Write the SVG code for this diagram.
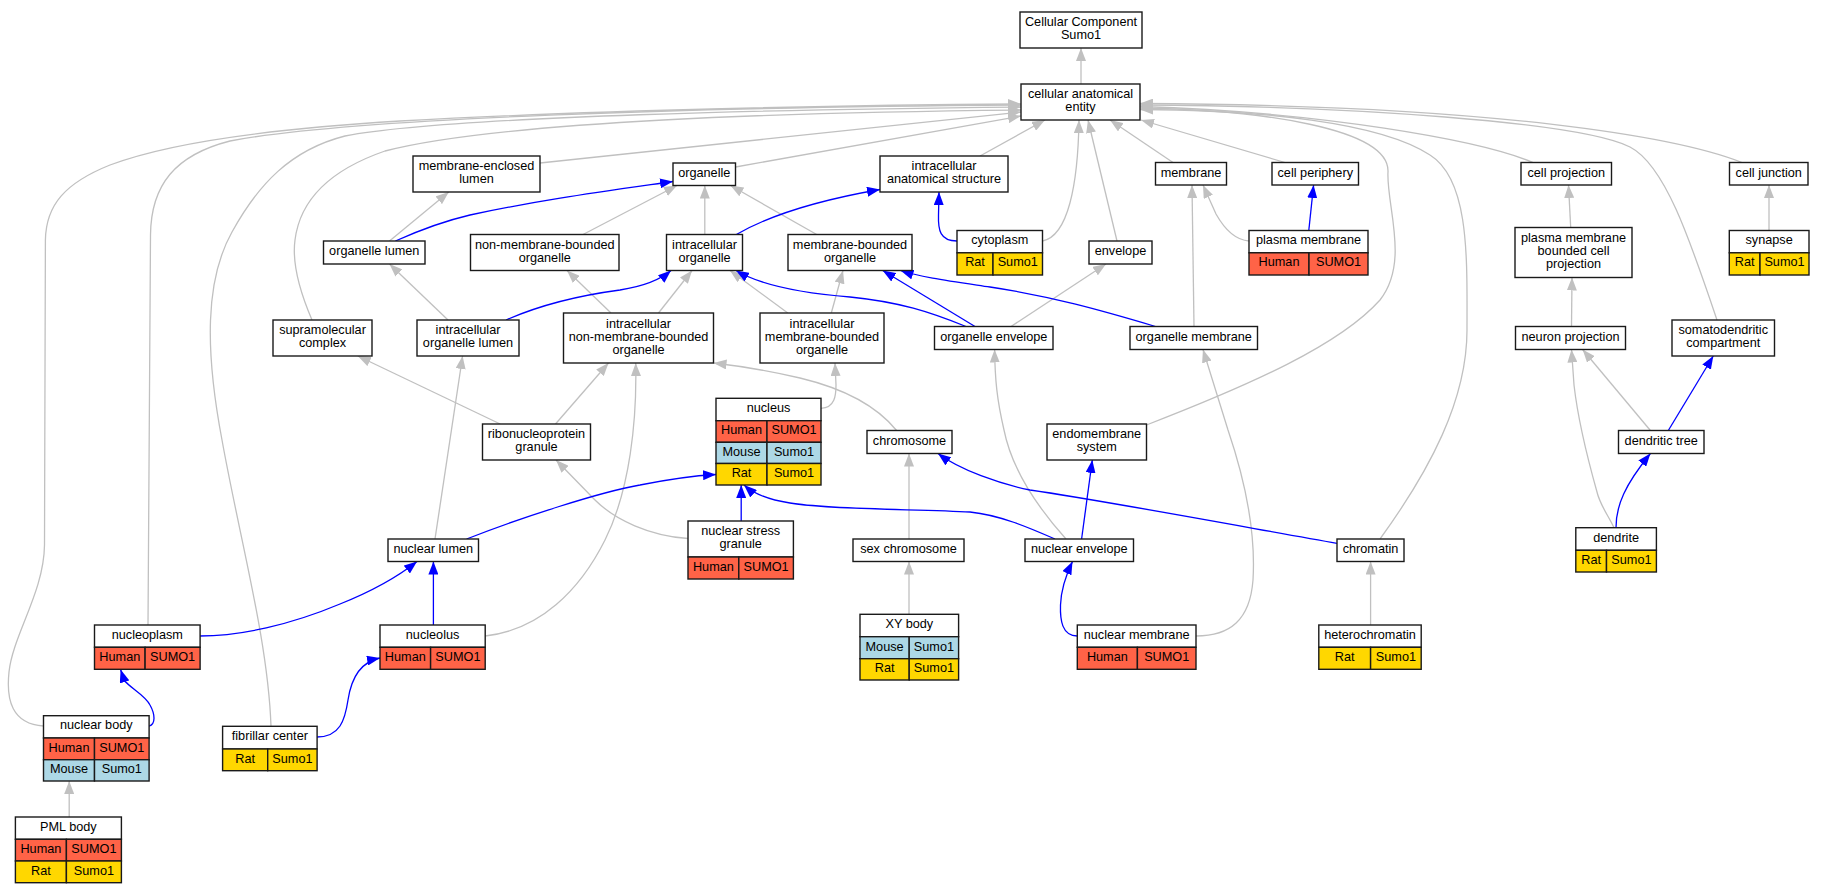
<svg xmlns="http://www.w3.org/2000/svg" width="1825" height="893" viewBox="0 0 1825 893">
<style>
text{font-family:"Liberation Sans",Arial,sans-serif;font-size:12.7px;text-anchor:middle;fill:#000}
.bx{fill:#fff;stroke:#1a1a1a;stroke-width:1.4}
.hu{fill:#ff6347;stroke:#1a1a1a;stroke-width:1.4}
.mo{fill:#add8e6;stroke:#1a1a1a;stroke-width:1.4}
.ra{fill:#ffd700;stroke:#1a1a1a;stroke-width:1.4}
.g{fill:none;stroke:#c0c0c0;stroke-width:1.3;marker-end:url(#ag)}
.b{fill:none;stroke:#0000ff;stroke-width:1.3;marker-end:url(#ab)}
</style>
<defs>
<marker id="ag" viewBox="0 0 13 10" refX="13" refY="5" markerWidth="13" markerHeight="10" markerUnits="userSpaceOnUse" orient="auto"><path d="M0,0L13,5L0,10z" fill="#c0c0c0"/></marker>
<marker id="ab" viewBox="0 0 13 10" refX="13" refY="5" markerWidth="13" markerHeight="10" markerUnits="userSpaceOnUse" orient="auto"><path d="M0,0L13,5L0,10z" fill="#0000ff"/></marker>
</defs>
<rect width="1825" height="893" fill="#fff"/>
<g id="edges">
<path class="g" d="M1081,84 L1081,48"/>
<path class="g" d="M540,163 L1021,112"/>
<path class="g" d="M735.5,167 L1021,116"/>
<path class="g" d="M980,156 L1045,120"/>
<path class="g" d="M1042.5,241 C1068,236 1078,185 1079,120"/>
<path class="g" d="M1117,241 L1088,120"/>
<path class="g" d="M1173,162.5 L1110,120"/>
<path class="g" d="M1285,162.5 L1141,120"/>
<path class="g" d="M1533,162.5 C1480,140 1320,112 1140,106.5"/>
<path class="g" d="M1742,162.5 C1680,138 1500,105 1140,103.5"/>
<path class="g" d="M1717,320 C1690,240 1665,165 1630,147 C1580,122 1350,106 1140,105"/>
<path class="g" d="M1146.5,425 C1250,385 1340,345 1380,300 C1410,262 1386,205 1388,172 C1390,128 1260,110 1140,108"/>
<path class="g" d="M1380,539 C1430,470 1467,400 1467,330 C1467,260 1470,180 1430,155 C1380,122 1260,110 1140,109.5"/>
<path class="g" d="M148,625 L150.5,235 C151,185 175,155 230,141 C350,118 700,107 1021,105"/>
<path class="g" d="M43.5,726 C12,724 6,700 9,672 C13,635 44,592 44.5,545 L45.4,240 C46,205 65,183 110,165 C160,146 250,130 400,121 C600,110 850,105 1021,104"/>
<path class="g" d="M271,726.3 C268,640 240,540 222,440 C205,350 205,280 232,232 C258,185 290,150 345,136 C450,116 800,109 1021,107"/>
<path class="g" d="M312,320 C300,292 292,262 295,240 C300,200 330,170 385,151 C500,121 800,112 1021,110"/>
<path class="g" d="M583,234.5 L677,185.5"/>
<path class="g" d="M704.8,234.5 L704.8,185.5"/>
<path class="g" d="M816.7,234.5 L730.5,185.5"/>
<path class="g" d="M389.5,241 L448.8,192"/>
<path class="g" d="M448,320 L389.5,264"/>
<path class="g" d="M611,313 L567,270.5"/>
<path class="g" d="M658.5,313 L692,270.5"/>
<path class="g" d="M787.8,313 L730,270.5"/>
<path class="g" d="M831.3,313 L843,270.5"/>
<path class="g" d="M1011,326.5 L1106,264"/>
<path class="g" d="M1194,326.5 L1192,185"/>
<path class="g" d="M1249,241 C1235,240 1225,230 1216,214 L1203,185"/>
<path class="g" d="M1570.7,227.5 L1568.5,185"/>
<path class="g" d="M1769,230.5 L1769,185"/>
<path class="g" d="M1571.5,326.5 L1572,277.5"/>
<path class="g" d="M1650.4,430.5 L1582.6,349.5"/>
<path class="g" d="M1614,527.7 C1608,515 1600,505 1597,492 C1588,460 1578,420 1574,385 L1571.5,349.5"/>
<path class="g" d="M500.2,424 L357.8,356"/>
<path class="g" d="M555.5,424 L608.5,363"/>
<path class="g" d="M485.2,636 C540,630 580,590 605,540 C630,490 637,420 635.7,363"/>
<path class="g" d="M896.6,430.5 C880,410 850,390 800,378 C770,371 740,366 713.5,363"/>
<path class="g" d="M821,408.3 C835,408 836,395 836,385 L835,363"/>
<path class="g" d="M435,539 L462.6,356"/>
<path class="g" d="M688,538.5 C650,536 615,520 595,500 L556,460"/>
<path class="g" d="M909,539 L909,453.5"/>
<path class="g" d="M909,614.3 L909,561.5"/>
<path class="g" d="M1066,539 C1040,510 1012,470 1004,430 C997,400 995,380 994.6,349.5"/>
<path class="g" d="M1196,636 C1230,636 1250,620 1253,580 C1256,530 1245,480 1228,430 L1203,349.5"/>
<path class="g" d="M1370.6,625 L1370.6,561.5"/>
<path class="g" d="M69.2,817 L69.2,781"/>
<path class="b" d="M395.4,241 C420,230 440,222 470,215 C540,200 600,192 673,181.5"/>
<path class="b" d="M506,320 C540,305 575,296 620,290 C645,286 660,280 671,270.5"/>
<path class="b" d="M736.4,234.5 C770,215 820,200 880,189.5"/>
<path class="b" d="M957,241 C940,241 938,230 938.5,215 L939,192"/>
<path class="b" d="M966,326.5 C930,312 900,302 850,297 C800,293 760,285 736,270.5"/>
<path class="b" d="M975,326.5 L882.7,270.5"/>
<path class="b" d="M1155.5,326.5 C1100,310 1050,296 990,287 C950,281 920,277 900.5,270.5"/>
<path class="b" d="M1308.8,230.5 L1313.6,185"/>
<path class="b" d="M1668.3,430.5 L1713.3,356"/>
<path class="b" d="M1616,527.7 C1616,505 1625,485 1650.4,453.5"/>
<path class="b" d="M466.6,539 C520,518 600,492 640,485 C670,479 690,476 716,474.5"/>
<path class="b" d="M741.2,521 L741.2,485"/>
<path class="b" d="M1055,539 C1030,528 1000,515 970,512 C920,509 830,510 790,503 C770,500 755,495 744,485"/>
<path class="b" d="M1337,543.3 C1250,528 1100,500 1030,490 C1000,484 960,470 938,453.5"/>
<path class="b" d="M1081.6,539 L1092.3,460"/>
<path class="b" d="M1077.3,636 C1062,636 1060,620 1060.5,605 C1061,590 1066,575 1072.5,561.5"/>
<path class="b" d="M200,636 C240,636 290,625 340,604 C375,590 400,575 417,561.5"/>
<path class="b" d="M433.4,625 L433.4,561.5"/>
<path class="b" d="M149,726 C156,724 155,714 150,705 C145,695 130,688 124,680 L120.6,669.5"/>
<path class="b" d="M317,737 C340,737 345,720 348,700 C351,680 360,662 380,658"/>
</g>
<g id="n_ccs"><rect class="bx" x="1020" y="12" width="122" height="36"/><text x="1081" y="26">Cellular Component</text><text x="1081" y="39">Sumo1</text></g>
<g id="n_cae"><rect class="bx" x="1021" y="84" width="119" height="36"/><text x="1080.5" y="98">cellular anatomical</text><text x="1080.5" y="111">entity</text></g>
<g id="n_mel"><rect class="bx" x="413" y="156" width="127" height="36"/><text x="476.5" y="170">membrane-enclosed</text><text x="476.5" y="183">lumen</text></g>
<g id="n_organelle"><rect class="bx" x="673" y="163" width="62.5" height="22.5"/><text x="704.25" y="176.75">organelle</text></g>
<g id="n_ias"><rect class="bx" x="880" y="156" width="128" height="36"/><text x="944" y="170">intracellular</text><text x="944" y="183">anatomical structure</text></g>
<g id="n_membrane"><rect class="bx" x="1155.5" y="162.5" width="71" height="22.5"/><text x="1191" y="176.75">membrane</text></g>
<g id="n_cellperiphery"><rect class="bx" x="1272" y="162.5" width="86.5" height="22.5"/><text x="1315.25" y="176.75">cell periphery</text></g>
<g id="n_cellprojection"><rect class="bx" x="1521" y="162.5" width="90.5" height="22.5"/><text x="1566.25" y="176.75">cell projection</text></g>
<g id="n_celljunction"><rect class="bx" x="1729.5" y="162.5" width="78.5" height="22.5"/><text x="1768.75" y="176.75">cell junction</text></g>
<g id="n_organellelumen"><rect class="bx" x="323.5" y="241" width="101.5" height="23"/><text x="374.25" y="255">organelle lumen</text></g>
<g id="n_nmbo"><rect class="bx" x="470.5" y="234.5" width="148.5" height="36"/><text x="544.75" y="248.5">non-membrane-bounded</text><text x="544.75" y="261.5">organelle</text></g>
<g id="n_io"><rect class="bx" x="666.5" y="234.5" width="76" height="36"/><text x="704.5" y="248.5">intracellular</text><text x="704.5" y="261.5">organelle</text></g>
<g id="n_mbo"><rect class="bx" x="788" y="234.5" width="124" height="36"/><text x="850" y="248.5">membrane-bounded</text><text x="850" y="261.5">organelle</text></g>
<g id="n_cytoplasm"><rect class="bx" x="957" y="230.5" width="85.5" height="22.3"/><rect class="ra" x="957" y="252.8" width="36" height="22.2"/><rect class="ra" x="993" y="252.8" width="49.5" height="22.2"/><text x="999.75" y="244.2">cytoplasm</text><text x="975" y="266.4">Rat</text><text x="1017.75" y="266.4">Sumo1</text></g>
<g id="n_envelope"><rect class="bx" x="1089" y="241" width="63" height="23"/><text x="1120.5" y="255">envelope</text></g>
<g id="n_plasmamembrane"><rect class="bx" x="1249" y="230.5" width="119" height="22.3"/><rect class="hu" x="1249" y="252.8" width="60" height="22.2"/><rect class="hu" x="1309" y="252.8" width="59" height="22.2"/><text x="1308.5" y="244.2">plasma membrane</text><text x="1279" y="266.4">Human</text><text x="1338.5" y="266.4">SUMO1</text></g>
<g id="n_pmbcp"><rect class="bx" x="1515" y="227.5" width="117" height="50"/><text x="1573.5" y="242">plasma membrane</text><text x="1573.5" y="255">bounded cell</text><text x="1573.5" y="268">projection</text></g>
<g id="n_synapse"><rect class="bx" x="1729.3" y="230.5" width="79.7" height="22.3"/><rect class="ra" x="1729.3" y="252.8" width="30.7" height="22.2"/><rect class="ra" x="1760" y="252.8" width="49" height="22.2"/><text x="1769.15" y="244.2">synapse</text><text x="1744.65" y="266.4">Rat</text><text x="1784.5" y="266.4">Sumo1</text></g>
<g id="n_supramolecular"><rect class="bx" x="273" y="320" width="99" height="36"/><text x="322.5" y="334">supramolecular</text><text x="322.5" y="347">complex</text></g>
<g id="n_iol"><rect class="bx" x="417" y="320" width="102" height="36"/><text x="468" y="334">intracellular</text><text x="468" y="347">organelle lumen</text></g>
<g id="n_inmbo"><rect class="bx" x="563.5" y="313" width="150" height="50"/><text x="638.5" y="327.5">intracellular</text><text x="638.5" y="340.5">non-membrane-bounded</text><text x="638.5" y="353.5">organelle</text></g>
<g id="n_imbo"><rect class="bx" x="760" y="313" width="124" height="50"/><text x="822" y="327.5">intracellular</text><text x="822" y="340.5">membrane-bounded</text><text x="822" y="353.5">organelle</text></g>
<g id="n_organelleenvelope"><rect class="bx" x="934.5" y="326.5" width="118.5" height="23"/><text x="993.75" y="340.5">organelle envelope</text></g>
<g id="n_organellemembrane"><rect class="bx" x="1130" y="326.5" width="127.5" height="23"/><text x="1193.75" y="340.5">organelle membrane</text></g>
<g id="n_neuronprojection"><rect class="bx" x="1515.5" y="326.5" width="110" height="23"/><text x="1570.5" y="340.5">neuron projection</text></g>
<g id="n_sdc"><rect class="bx" x="1672" y="320" width="102.5" height="36"/><text x="1723.25" y="334">somatodendritic</text><text x="1723.25" y="347">compartment</text></g>
<g id="n_rnp"><rect class="bx" x="482.5" y="424" width="108" height="36"/><text x="536.5" y="438">ribonucleoprotein</text><text x="536.5" y="451">granule</text></g>
<g id="n_nucleus"><rect class="bx" x="716" y="398.3" width="105" height="22.4"/><rect class="hu" x="716" y="420.7" width="51" height="21.6"/><rect class="hu" x="767" y="420.7" width="54" height="21.6"/><rect class="mo" x="716" y="442.3" width="51" height="21.2"/><rect class="mo" x="767" y="442.3" width="54" height="21.2"/><rect class="ra" x="716" y="463.5" width="51" height="21.5"/><rect class="ra" x="767" y="463.5" width="54" height="21.5"/><text x="768.5" y="412">nucleus</text><text x="741.5" y="434.3">Human</text><text x="794" y="434.3">SUMO1</text><text x="741.5" y="455.7">Mouse</text><text x="794" y="455.7">Sumo1</text><text x="741.5" y="477">Rat</text><text x="794" y="477">Sumo1</text></g>
<g id="n_chromosome"><rect class="bx" x="867" y="430.5" width="85" height="23"/><text x="909.5" y="444.5">chromosome</text></g>
<g id="n_ems"><rect class="bx" x="1047" y="424" width="99.5" height="36"/><text x="1096.75" y="438">endomembrane</text><text x="1096.75" y="451">system</text></g>
<g id="n_dendritictree"><rect class="bx" x="1618.5" y="430.5" width="85.5" height="23"/><text x="1661.25" y="444.5">dendritic tree</text></g>
<g id="n_nsg"><rect class="bx" x="688" y="521" width="105.4" height="36"/><rect class="hu" x="688" y="557" width="50.8" height="22"/><rect class="hu" x="738.8" y="557" width="54.6" height="22"/><text x="740.7" y="535">nuclear stress</text><text x="740.7" y="548">granule</text><text x="713.4" y="570.8">Human</text><text x="766.1" y="570.8">SUMO1</text></g>
<g id="n_nuclearlumen"><rect class="bx" x="388" y="539" width="90.5" height="22.5"/><text x="433.25" y="552.75">nuclear lumen</text></g>
<g id="n_sexchromosome"><rect class="bx" x="853" y="539" width="111" height="22.5"/><text x="908.5" y="552.75">sex chromosome</text></g>
<g id="n_nuclearenvelope"><rect class="bx" x="1025" y="539" width="108.5" height="22.5"/><text x="1079.25" y="552.75">nuclear envelope</text></g>
<g id="n_chromatin"><rect class="bx" x="1337" y="539" width="67" height="22.5"/><text x="1370.5" y="552.75">chromatin</text></g>
<g id="n_dendrite"><rect class="bx" x="1575.8" y="527.7" width="80.6" height="22.6"/><rect class="ra" x="1575.8" y="550.3" width="30.7" height="21.7"/><rect class="ra" x="1606.5" y="550.3" width="49.9" height="21.7"/><text x="1616.1" y="541.5">dendrite</text><text x="1591.15" y="564">Rat</text><text x="1631.45" y="564">Sumo1</text></g>
<g id="n_nucleoplasm"><rect class="bx" x="94.5" y="625" width="105.6" height="22.3"/><rect class="hu" x="94.5" y="647.3" width="50.6" height="22"/><rect class="hu" x="145.1" y="647.3" width="55" height="22"/><text x="147.3" y="638.7">nucleoplasm</text><text x="119.8" y="661.1">Human</text><text x="172.6" y="661.1">SUMO1</text></g>
<g id="n_nucleolus"><rect class="bx" x="380" y="625" width="105.2" height="22.3"/><rect class="hu" x="380" y="647.3" width="50.6" height="22"/><rect class="hu" x="430.6" y="647.3" width="54.6" height="22"/><text x="432.6" y="638.7">nucleolus</text><text x="405.3" y="661.1">Human</text><text x="457.9" y="661.1">SUMO1</text></g>
<g id="n_nuclearmembrane"><rect class="bx" x="1077.3" y="625" width="118.7" height="22.3"/><rect class="hu" x="1077.3" y="647.3" width="60.1" height="22"/><rect class="hu" x="1137.4" y="647.3" width="58.6" height="22"/><text x="1136.65" y="638.7">nuclear membrane</text><text x="1107.35" y="661.1">Human</text><text x="1166.7" y="661.1">SUMO1</text></g>
<g id="n_heterochromatin"><rect class="bx" x="1318.8" y="625" width="102.4" height="22.3"/><rect class="ra" x="1318.8" y="647.3" width="51.8" height="22"/><rect class="ra" x="1370.6" y="647.3" width="50.6" height="22"/><text x="1370" y="638.7">heterochromatin</text><text x="1344.7" y="661.1">Rat</text><text x="1395.9" y="661.1">Sumo1</text></g>
<g id="n_xybody"><rect class="bx" x="860" y="614.3" width="98.6" height="22.4"/><rect class="mo" x="860" y="636.7" width="49.2" height="22"/><rect class="mo" x="909.2" y="636.7" width="49.4" height="22"/><rect class="ra" x="860" y="658.7" width="49.2" height="21.3"/><rect class="ra" x="909.2" y="658.7" width="49.4" height="21.3"/><text x="909.3" y="628">XY body</text><text x="884.6" y="650.5">Mouse</text><text x="933.9" y="650.5">Sumo1</text><text x="884.6" y="672.2">Rat</text><text x="933.9" y="672.2">Sumo1</text></g>
<g id="n_nuclearbody"><rect class="bx" x="43.5" y="715.7" width="105.6" height="22.3"/><rect class="hu" x="43.5" y="738" width="51" height="21.7"/><rect class="hu" x="94.5" y="738" width="54.6" height="21.7"/><rect class="mo" x="43.5" y="759.7" width="51" height="21.3"/><rect class="mo" x="94.5" y="759.7" width="54.6" height="21.3"/><text x="96.3" y="729.4">nuclear body</text><text x="69" y="751.6">Human</text><text x="121.8" y="751.6">SUMO1</text><text x="69" y="773.2">Mouse</text><text x="121.8" y="773.2">Sumo1</text></g>
<g id="n_fibrillarcenter"><rect class="bx" x="222.6" y="726.3" width="94.5" height="22.7"/><rect class="ra" x="222.6" y="749" width="45.1" height="21.7"/><rect class="ra" x="267.7" y="749" width="49.4" height="21.7"/><text x="269.85" y="740.2">fibrillar center</text><text x="245.15" y="762.7">Rat</text><text x="292.4" y="762.7">Sumo1</text></g>
<g id="n_pmlbody"><rect class="bx" x="15.4" y="817" width="106" height="22.3"/><rect class="hu" x="15.4" y="839.3" width="51" height="21.7"/><rect class="hu" x="66.4" y="839.3" width="55" height="21.7"/><rect class="ra" x="15.4" y="861" width="51" height="21.7"/><rect class="ra" x="66.4" y="861" width="55" height="21.7"/><text x="68.4" y="830.7">PML body</text><text x="40.9" y="853">Human</text><text x="93.9" y="853">SUMO1</text><text x="40.9" y="874.7">Rat</text><text x="93.9" y="874.7">Sumo1</text></g>
</svg>
